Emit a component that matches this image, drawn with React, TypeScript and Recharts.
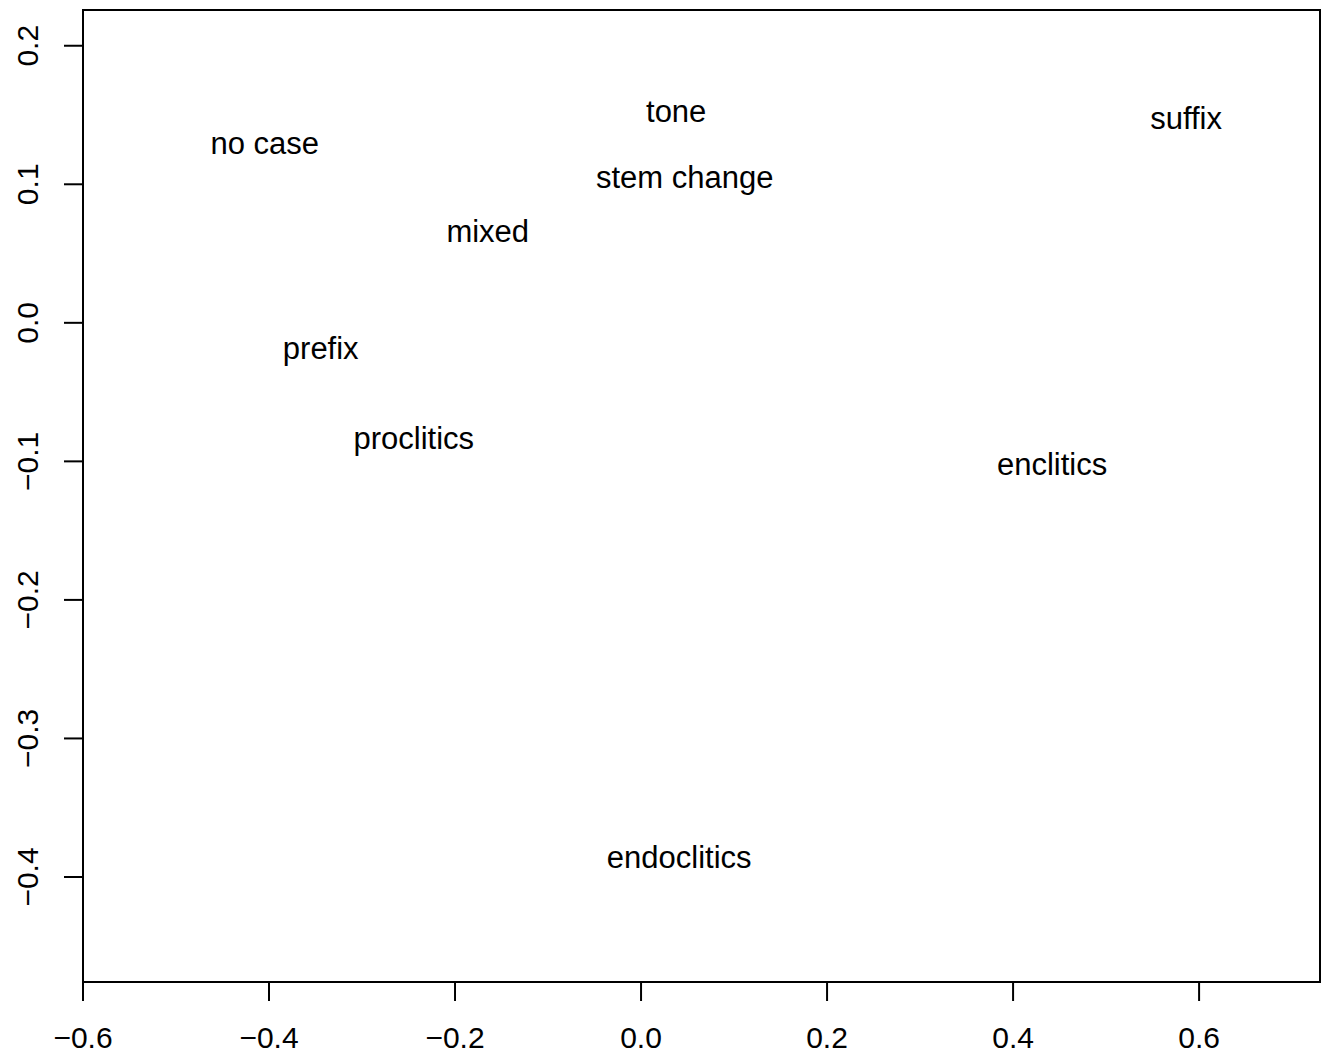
import {
  ScatterChart,
  Scatter,
  XAxis,
  YAxis,
  ReferenceArea,
} from "recharts";

const labels = [
  "no case",
  "tone",
  "suffix",
  "stem change",
  "mixed",
  "prefix",
  "proclitics",
  "enclitics",
  "endoclitics",
];
const xValues = [-0.4046, 0.0378, 0.586, 0.0469, -0.1648, -0.3444, -0.2444, 0.442, 0.041];
const yValues = [0.1276, 0.1505, 0.1454, 0.1030, 0.0643, -0.0206, -0.0856, -0.1042, -0.3877];

const xTicks = [-0.6, -0.4, -0.2, 0.0, 0.2, 0.4, 0.6];
const yTicks = [-0.4, -0.3, -0.2, -0.1, 0.0, 0.1, 0.2];

const X_DOMAIN: [number, number] = [-0.6, 0.73];
const Y_DOMAIN: [number, number] = [-0.4758, 0.2258];

const FONT = '"Liberation Sans", Arial, Helvetica, sans-serif';

const points = labels.map((name, i) => ({ name, x: xValues[i], y: yValues[i] }));

// R-style tick labels: unicode minus, one decimal
const fmt = (v: number) => {
  const s = Math.abs(v).toFixed(1);
  return v < -1e-9 ? `\u2212${s}` : s;
};

const XTick = (props: any) => {
  const { x, y, payload } = props;
  return (
    <text x={x} y={y + 47} textAnchor="middle" fontSize={30} fontFamily={FONT} fill="#000">
      {fmt(payload.value)}
    </text>
  );
};

const YTick = (props: any) => {
  const { x, y, payload } = props;
  const tx = x - 25.5;
  return (
    <text
      x={tx}
      y={y}
      transform={`rotate(-90, ${tx}, ${y})`}
      textAnchor="middle"
      fontSize={30}
      fontFamily={FONT}
      fill="#000"
    >
      {fmt(payload.value)}
    </text>
  );
};

const LabelShape = (props: any) => {
  const { cx, cy, payload } = props;
  return (
    <text x={cx} y={cy + 8} textAnchor="middle" fontSize={31} fontFamily={FONT} fill="#000">
      {payload.name}
    </text>
  );
};

export default function App() {
  return (
    <div style={{ position: "absolute", left: 0, top: 0, background: "#fff" }}>
      <ScatterChart
        width={1321}
        height={1055}
        margin={{ top: 10, right: 1, bottom: 0, left: 0 }}
      >
        <XAxis
          type="number"
          dataKey="x"
          domain={X_DOMAIN}
          ticks={xTicks}
          allowDataOverflow
          height={73}
          axisLine={false}
          tickSize={19}
          tickMargin={0}
          tickLine={{ stroke: "#000", strokeWidth: 2 }}
          tick={<XTick />}
          interval={0}
        />
        <YAxis
          type="number"
          dataKey="y"
          domain={Y_DOMAIN}
          ticks={yTicks}
          allowDataOverflow
          width={83}
          axisLine={false}
          tickSize={19}
          tickMargin={0}
          tickLine={{ stroke: "#000", strokeWidth: 2 }}
          tick={<YTick />}
          interval={0}
        />
        <ReferenceArea
          x1={X_DOMAIN[0]}
          x2={X_DOMAIN[1]}
          y1={Y_DOMAIN[0]}
          y2={Y_DOMAIN[1]}
          fill="none"
          fillOpacity={0}
          stroke="#000"
          strokeWidth={2}
        />
        <Scatter data={points} shape={<LabelShape />} isAnimationActive={false} />
      </ScatterChart>
    </div>
  );
}
